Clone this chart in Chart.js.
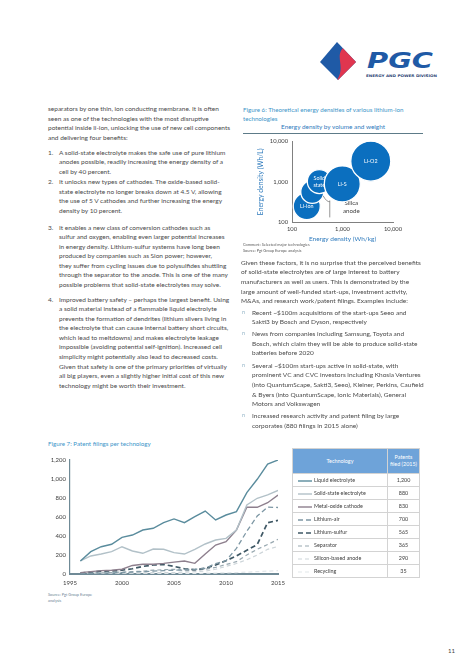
<!DOCTYPE html>
<html><head><meta charset="utf-8">
<script src="https://cdn.jsdelivr.net/npm/chart.js@4.4.0/dist/chart.umd.min.js"></script>
<style>
html,body{margin:0;padding:0;background:#fff;}
body{width:474px;height:670px;position:relative;overflow:hidden;font-family:Lato,"Liberation Sans",sans-serif;color:#4a4a4a;}
.t{position:absolute;font-size:6.5px;line-height:9.5px;white-space:nowrap;}
.num{position:absolute;font-size:6.5px;line-height:9.5px;}
.cap{position:absolute;font-size:6.2px;line-height:8.5px;color:#3d95c9;white-space:nowrap;}
.tiny{position:absolute;font-size:3.9px;line-height:5.5px;color:#5a5a5a;white-space:nowrap;}
.bul{position:absolute;left:-10px;color:#8fb2c6;font-size:5.5px;}
#tbl{position:absolute;left:292px;top:448px;width:128px;border-collapse:collapse;font-size:5.4px;color:#404040;}
#tbl th{background:#6ea3d9;color:#fff;font-weight:normal;height:24px;padding:0;border:0.8px solid #d3d3d3;line-height:7px;}
#tbl td{height:12px;padding:0;border:0.8px solid #d3d3d3;white-space:nowrap;}
#tbl td.v{text-align:center;}
#tbl svg{vertical-align:middle;margin:0 2px 0 5px;}
canvas{position:absolute;}
</style></head>
<body>
<svg style="position:absolute;left:0;top:0" width="474" height="90">
 <defs><clipPath id="dm"><polygon points="337,42 356,62 338,80 320,62"/></clipPath></defs>
 <g clip-path="url(#dm)">
  <rect x="315" y="38" width="45" height="46" fill="#1f5aa6"/>
  <path d="M345,46 C332,57 349,67 334,84 L362,84 L362,40 Z" fill="#e0364f"/>
 </g>
 <text x="367" y="68" font-family="DejaVu Sans" font-weight="bold" font-style="italic" font-size="21" fill="#1f5aa6" textLength="66" lengthAdjust="spacingAndGlyphs">PGC</text>
 <text x="366" y="76.5" font-family="DejaVu Sans" font-weight="bold" font-size="3.6" fill="#2b3f73" textLength="71" lengthAdjust="spacingAndGlyphs">ENERGY AND POWER DIVISION</text>
</svg>

<div class="t" style="left:48px;top:104px">separators by one thin, ion conducting membrane. It is often<br>seen as one of the technologies with the most disruptive<br>potential inside li-ion, unlocking the use of new cell components<br>and delivering four benefits:</div>

<div class="num" style="left:48px;top:147.5px">1.</div>
<div class="t" style="left:59px;top:147.5px">A solid-state electrolyte makes the safe use of pure lithium<br>anodes possible, readily increasing the energy density of a<br>cell by 40 percent.</div>
<div class="num" style="left:48px;top:177px">2.</div>
<div class="t" style="left:59px;top:177px">It unlocks new types of cathodes. The oxide-based solid-<br>state electrolyte no longer breaks down at 4.5 V, allowing<br>the use of 5 V cathodes and further increasing the energy<br>density by 10 percent.</div>
<div class="num" style="left:48px;top:222.5px">3.</div>
<div class="t" style="left:59px;top:222.5px">It enables a new class of conversion cathodes such as<br>sulfur and oxygen, enabling even larger potential increases<br>in energy density. Lithium-sulfur systems have long been<br>produced by companies such as Sion power; however,<br>they suffer from cycling issues due to polysulfides shuttling<br>through the separator to the anode. This is one of the many<br>possible problems that solid-state electrolytes may solve.</div>
<div class="num" style="left:48px;top:294.5px">4.</div>
<div class="t" style="left:59px;top:294.5px;line-height:9.6px">Improved battery safety – perhaps the largest benefit. Using<br>a solid material instead of a flammable liquid electrolyte<br>prevents the formation of dendrites (lithium slivers living in<br>the electrolyte that can cause internal battery short circuits,<br>which lead to meltdowns) and makes electrolyte leakage<br>impossible (avoiding potential self-ignition). Increased cell<br>simplicity might potentially also lead to decreased costs.<br>Given that safety is one of the primary priorities of virtually<br>all big players, even a slightly higher initial cost of this new<br>technology might be worth their investment.</div>

<div class="cap" style="left:243px;top:106px">Figure 6: Theoretical energy densities of various lithium-ion<br>technologies</div>
<div style="position:absolute;left:243px;top:123px;width:180px;text-align:center;font-size:6.4px;color:#2f7bbd;">Energy density by volume and weight</div>
<div style="position:absolute;left:243px;top:132.5px;width:180px;height:0;border-top:1px solid #5d7b88;"></div>
<canvas id="bubble" width="166" height="110" style="left:257px;top:134px;width:166px;height:110px"></canvas>
<div class="tiny" style="left:243px;top:242px">Comment: Selected major technologies<br>Source: Pgt Group Europe analysis</div>

<div class="t" style="left:241px;top:257.5px;line-height:9.7px">Given these factors, it is no surprise that the perceived benefits<br>of solid-state electrolytes are of large interest to battery<br>manufacturers as well as users. This is demonstrated by the<br>large amount of well-funded start-ups, investment activity,<br>M&amp;As, and research work/patent filings. Examples include:</div>
<div class="t" style="left:252px;top:307.5px;line-height:9.7px"><span class="bul">n</span>Recent ~$100m acquisitions of the start-ups Seeo and<br>Sakti3 by Bosch and Dyson, respectively</div>
<div class="t" style="left:252px;top:329px;line-height:9.7px"><span class="bul">n</span>News from companies including Samsung, Toyota and<br>Bosch, which claim they will be able to produce solid-state<br>batteries before 2020</div>
<div class="t" style="left:252px;top:360.5px;line-height:9.7px"><span class="bul">n</span>Several ~$100m start-ups active in solid-state, with<br>prominent VC and CVC investors including Khosla Ventures<br>(into QuantumScape, Sakti3, Seeo), Kleiner, Perkins, Caufield<br>&amp; Byers (into QuantumScape, Ionic Materials), General<br>Motors and Volkswagen</div>
<div class="t" style="left:252px;top:411px;line-height:9.7px"><span class="bul">n</span>Increased research activity and patent filing by large<br>corporates (880 filings in 2015 alone)</div>

<div class="cap" style="left:48px;top:440px">Figure 7: Patent filings per technology</div>
<canvas id="lines" width="260" height="140" style="left:30px;top:452px;width:260px;height:140px"></canvas>
<div class="tiny" style="left:48px;top:592px;color:#6b8594">Source: Pgt Group Europe<br>analysis</div>
<table id="tbl"></table>

<div style="position:absolute;left:448px;top:647px;font-size:6px;color:#404040">11</div>

<script>
// ---------- Figure 6 data ----------
const bubbleNames = ['Li-ion', 'Silica anode', 'Solid state', 'Li-S', 'Li-O2'];
const energyWhKg  = [196, 252, 347, 990, 3630];
const energyWhL   = [247, 560, 1010, 885, 3240];
const bubbleRadius = [13.5, 11.5, 12, 18, 20];
const densityTicks = [100, 1000, 10000];

// ---------- Figure 7 data ----------
const years = [1996,1997,1998,1999,2000,2001,2002,2003,2004,2005,2006,2007,2008,2009,2010,2011,2012,2013,2014,2015];
const liquidElectrolyte = [137,235,287,313,386,410,463,481,540,580,540,603,663,569,621,656,856,997,1158,1200];
const solidStateElectrolyte = [137,190,210,235,287,242,218,263,260,225,210,260,316,358,375,463,727,797,832,880];
const metalOxideCathode = [15,25,35,40,50,90,102,102,112,125,137,112,210,305,340,463,702,702,750,830];
const lithiumAir = [5,8,10,12,15,20,25,30,35,40,45,50,60,110,140,270,450,610,705,700];
const lithiumSulfur = [10,20,30,32,40,55,80,95,100,80,55,45,60,95,140,190,250,310,540,565];
const separator = [5,10,12,15,20,25,30,40,45,50,35,40,50,70,100,130,200,260,310,365];
const siliconAnode = [2,4,5,6,8,10,12,14,15,15,20,25,30,50,80,110,150,200,260,290];
const recycling = [0,0,1,1,2,2,3,3,4,5,5,6,8,10,12,15,20,25,30,35];
const technologies = ['Liquid electrolyte','Solid-state electrolyte','Metal-oxide cathode','Lithium-air','Lithium-sulfur','Separator','Silicon-based anode','Recycling'];
const patents2015 = ['1,200','880','830','700','565','365','290','35'];
const yearTicks = [1995, 2000, 2005, 2010, 2015];
const filingTicks = [0, 200, 400, 600, 800, 1000, 1200];

const seriesValues = [liquidElectrolyte, solidStateElectrolyte, metalOxideCathode, lithiumAir, lithiumSulfur, separator, siliconAnode, recycling];
const seriesStyle = [
  {c:'#5a8c9d', w:1.4, d:[]},
  {c:'#b2c1c8', w:1.4, d:[]},
  {c:'#8d7f8d', w:1.4, d:[]},
  {c:'#7d97a4', w:1.3, d:[5,3]},
  {c:'#3f5865', w:1.7, d:[5,3]},
  {c:'#98a8b0', w:1.2, d:[4,3]},
  {c:'#cdd5d9', w:1.2, d:[4,3]},
  {c:'#e2e7ea', w:1.2, d:[4,3]}
];

const FONT = 'Lato';

// ----- bubble chart -----
const bubbleLabelPlugin = {
  id:'bubbleLabels',
  afterDatasetDraw(chart, args){
    const i = args.index;
    const el = args.meta.data[0];
    if(!el) return;
    const ctx = chart.ctx;
    ctx.save();
    const name = bubbleNames[i];
    if(name === 'Silica anode'){
      const r = el.options.radius;
      ctx.strokeStyle = '#7a7a7a'; ctx.lineWidth = 0.8;
      ctx.beginPath();
      ctx.moveTo(el.x + r*0.95, el.y + r*0.35);
      ctx.quadraticCurveTo(el.x + r + 3, el.y + r*0.9, el.x + r + 6, el.y + r*0.85);
      ctx.moveTo(el.x + r + 6, el.y + r*0.75);
      ctx.lineTo(el.x + r + 6, el.y + r + 14);
      ctx.stroke();
      ctx.fillStyle = '#404040';
      ctx.font = '6.2px ' + FONT;
      ctx.textAlign = 'center'; ctx.textBaseline = 'middle';
      ctx.fillText('Silica', el.x + 39, el.y + 11.5);
      ctx.fillText('anode', el.x + 39, el.y + 19.5);
    } else {
      ctx.fillStyle = '#ffffff';
      ctx.font = '5.4px ' + FONT;
      ctx.textAlign = 'center'; ctx.textBaseline = 'middle';
      const parts = name === 'Solid state' ? ['Solid','state'] : [name];
      parts.forEach((p,k)=>ctx.fillText(p, el.x, el.y + (k - (parts.length-1)/2)*6.5));
    }
    ctx.restore();
  }
};

new Chart(document.getElementById('bubble'), {
  type:'bubble',
  data:{datasets: bubbleNames.map((n,i)=>({
    label:n,
    data:[{x:energyWhKg[i], y:energyWhL[i], r:bubbleRadius[i]}],
    backgroundColor:'#0b6fbf', borderColor:'#ffffff', borderWidth:1.3,
    order: bubbleNames.length - i, clip:false
  }))},
  options:{
    responsive:false, animation:false, devicePixelRatio:1,
    layout:{autoPadding:false, padding:{top:5,right:30,left:0,bottom:0}},
    plugins:{legend:{display:false}, tooltip:{enabled:false}},
    scales:{
      x:{type:'logarithmic', min:100, max:10000,
        afterBuildTicks:s=>{s.ticks = densityTicks.map(v=>({value:v}));},
        grid:{display:false, drawTicks:false}, border:{color:'#808080', width:1},
        ticks:{callback:v=>Number(v).toLocaleString('en-US'), font:{size:5.8,family:FONT}, color:'#404040', padding:4, maxRotation:0, autoSkip:false},
        title:{display:true, text:'Energy density (Wh/kg)', color:'#2f7bbd', font:{size:6.5,family:FONT}, padding:{top:0,bottom:1}},
        afterFit:s=>{s.height=22;}},
      y:{type:'logarithmic', min:100, max:10000,
        afterBuildTicks:s=>{s.ticks = densityTicks.map(v=>({value:v}));},
        grid:{display:false, drawTicks:false}, border:{color:'#808080', width:1},
        ticks:{callback:v=>Number(v).toLocaleString('en-US'), font:{size:5.8,family:FONT}, color:'#404040', padding:4, autoSkip:false},
        title:{display:true, text:'Energy density (Wh/L)', color:'#2f7bbd', font:{size:6.8,family:FONT}, padding:{top:0,bottom:1}},
        afterFit:s=>{s.width=35;}}
    }
  },
  plugins:[bubbleLabelPlugin]
});

// ----- line chart -----
new Chart(document.getElementById('lines'), {
  type:'line',
  data:{datasets: seriesValues.map((vals,i)=>({
    label:technologies[i],
    data: years.map((yr,k)=>({x:yr, y:vals[k]})),
    borderColor:seriesStyle[i].c, borderWidth:seriesStyle[i].w, borderDash:seriesStyle[i].d,
    pointRadius:0, tension:0, fill:false, order: i
  }))},
  options:{
    responsive:false, animation:false, devicePixelRatio:1,
    layout:{padding:{top:8,right:4.5,left:0,bottom:0}},
    plugins:{legend:{display:false}, tooltip:{enabled:false}},
    scales:{
      x:{type:'linear', min:1995, max:2015,
        afterBuildTicks:s=>{s.ticks = yearTicks.map(v=>({value:v}));},
        grid:{display:false, drawTicks:false}, border:{color:'#6f8a96', width:2},
        ticks:{callback:v=>String(v), font:{size:6,family:FONT}, color:'#404040', padding:5, maxRotation:0, autoSkip:false},
        afterFit:s=>{s.height=18;}},
      y:{min:0, max:1200,
        afterBuildTicks:s=>{s.ticks = filingTicks.map(v=>({value:v}));},
        grid:{display:false, drawTicks:false}, border:{color:'#6f8a96', width:1.2},
        ticks:{callback:v=>Number(v).toLocaleString('en-US'), font:{size:6,family:FONT}, color:'#404040', padding:4, autoSkip:false},
        afterFit:s=>{s.width=40;}}
    }
  }
});

// ----- table -----
const tbl = document.getElementById('tbl');
let html = '<tr><th style="width:94px">Technology</th><th>Patents<br>filed (2015)</th></tr>';
technologies.forEach((t,i)=>{
  const st = seriesStyle[i];
  const dash = st.d.length ? `stroke-dasharray="${st.d.join(',')}"` : '';
  html += `<tr><td><svg width="14" height="4"><line x1="0" y1="2" x2="14" y2="2" stroke="${st.c}" stroke-width="${st.w}" ${dash}/></svg>${t}</td><td class="v">${patents2015[i]}</td></tr>`;
});
tbl.innerHTML = html;
</script>
</body></html>
